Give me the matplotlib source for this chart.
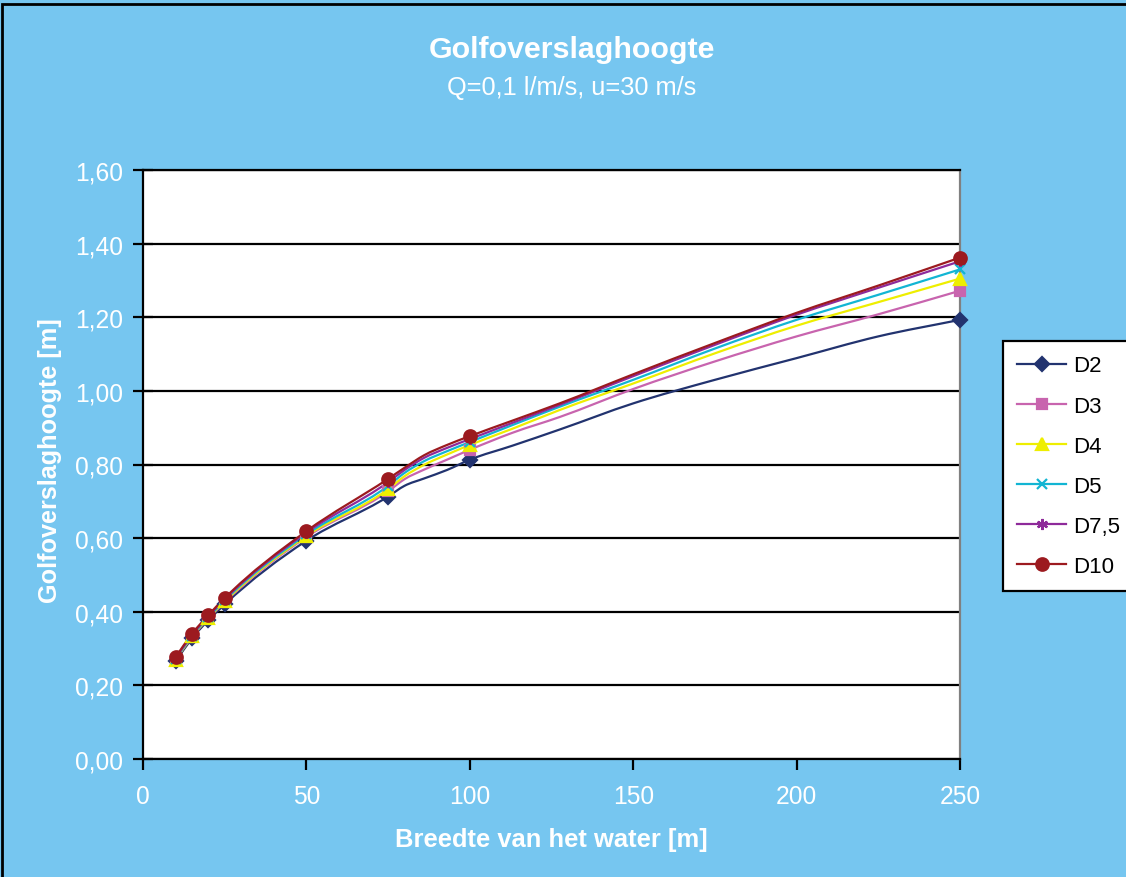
import matplotlib
matplotlib.use("Agg")
import matplotlib.pyplot as plt
from matplotlib.path import Path
from matplotlib.patches import PathPatch, Rectangle
from matplotlib.lines import Line2D
from matplotlib.ticker import FuncFormatter

plt.rcParams['font.family'] = ['Liberation Sans', 'DejaVu Sans']

# gegevens
breedte = [10, 15, 20, 25, 50, 75, 80, 86, 93, 100, 113, 127.5, 150, 175, 200, 225, 250]
# punten met een marker
meetpunten = [10, 15, 20, 25, 50, 75, 100, 250]
series_namen = ['D2', 'D3', 'D4', 'D5', 'D7,5', 'D10']
d2 = [0.265, 0.328, 0.377, 0.420, 0.593, 0.713, 0.742, 0.762, 0.785, 0.813,
      0.851, 0.895, 0.966, 1.030, 1.089, 1.148, 1.193]
d3 = [0.270, 0.332, 0.382, 0.426, 0.603, 0.727, 0.760, 0.786, 0.813, 0.840,
      0.886, 0.929, 1.005, 1.080, 1.148, 1.208, 1.272]
d4 = [0.270, 0.333, 0.383, 0.428, 0.606, 0.733, 0.768, 0.799, 0.827, 0.853,
      0.897, 0.948, 1.020, 1.102, 1.177, 1.241, 1.305]
d5 = [0.272, 0.335, 0.385, 0.431, 0.610, 0.742, 0.777, 0.809, 0.836, 0.861,
      0.907, 0.957, 1.030, 1.115, 1.193, 1.261, 1.330]
d75 = [0.274, 0.337, 0.388, 0.434, 0.615, 0.752, 0.785, 0.818, 0.845, 0.869,
       0.913, 0.962, 1.040, 1.125, 1.207, 1.280, 1.352]
d10 = [0.277, 0.340, 0.391, 0.437, 0.619, 0.761, 0.791, 0.825, 0.853, 0.877,
       0.919, 0.966, 1.045, 1.130, 1.212, 1.286, 1.362]
y_ticks = [0.0, 0.2, 0.4, 0.6, 0.8, 1.0, 1.2, 1.4, 1.6]
x_ticks = [0, 50, 100, 150, 200, 250]

waarden = [d2, d3, d4, d5, d75, d10]
kleuren = ['#22336f', '#c864ae', '#eeee00', '#12b5d3', '#8e2a9a', '#9c1a1f']
markers = ['D', 's', '^', 'x', (6, 2, 0), 'o']
msizes = [7.5, 7, 9, 7, 8, 9]

bg = '#76c6f0'


def gladde_lijn(xs, ys):
    # kubische hermite-curve door de punten (als bezier)
    n = len(xs)
    m = []
    for i in range(n):
        if i == 0:
            m.append((ys[1] - ys[0]) / (xs[1] - xs[0]))
        elif i == n - 1:
            m.append((ys[-1] - ys[-2]) / (xs[-1] - xs[-2]))
        else:
            h0 = xs[i] - xs[i - 1]
            h1 = xs[i + 1] - xs[i]
            s0 = (ys[i] - ys[i - 1]) / h0
            s1 = (ys[i + 1] - ys[i]) / h1
            m.append((s0 * h1 + s1 * h0) / (h0 + h1))
    verts = [(xs[0], ys[0])]
    codes = [Path.MOVETO]
    for i in range(n - 1):
        h = xs[i + 1] - xs[i]
        verts += [(xs[i] + h / 3, ys[i] + m[i] * h / 3),
                  (xs[i + 1] - h / 3, ys[i + 1] - m[i + 1] * h / 3),
                  (xs[i + 1], ys[i + 1])]
        codes += [Path.CURVE4] * 3
    return Path(verts, codes)


fig = plt.figure(figsize=(11.26, 8.78), dpi=100, facecolor=bg)
ax = fig.add_axes([143 / 1126, 118 / 878, 817 / 1126, 589 / 878])
ax.set_facecolor('white')

for naam, ys, kl, mk, ms in zip(series_namen, waarden, kleuren, markers, msizes):
    ax.add_patch(PathPatch(gladde_lijn(breedte, ys), facecolor='none',
                           edgecolor=kl, lw=1.6, zorder=3))
    mx = [x for x in breedte if x in meetpunten]
    my = [y for x, y in zip(breedte, ys) if x in meetpunten]
    ax.plot(mx, my, linestyle='none', marker=mk, markersize=ms,
            color=kl, markeredgecolor=kl, markeredgewidth=1.6, zorder=4,
            clip_on=False)

ax.set_xlim(0, 250)
ax.set_ylim(0, 1.6)
ax.set_xticks(x_ticks)
ax.set_yticks(y_ticks)
ax.yaxis.set_major_formatter(FuncFormatter(lambda v, p: f'{v:.2f}'.replace('.', ',')))
ax.grid(axis='y', color='black', lw=1.6)
ax.set_axisbelow(True)

for s in ['left', 'bottom', 'top']:
    ax.spines[s].set_color('black')
    ax.spines[s].set_linewidth(1.6)
ax.spines['right'].set_color('#808080')
ax.spines['right'].set_linewidth(1.6)

ax.tick_params(axis='y', direction='inout', length=14, width=1.6,
               colors='black', labelcolor='white', labelsize=17.7, pad=7.5)
ax.tick_params(axis='x', direction='out', length=8, width=1.6,
               colors='black', labelcolor='white', labelsize=17.7, pad=10)

ax.set_xlabel('Breedte van het water [m]', fontsize=18.4, fontweight='bold',
              color='white', va='center')
ax.xaxis.set_label_coords(0.5, -(840 - 760) / 589)
ax.set_ylabel('Golfoverslaghoogte [m]', fontsize=18.2, fontweight='bold',
              color='white', va='center')
ax.yaxis.set_label_coords(-(143 - 50) / 817, 0.508)

fig.text(572 / 1126, 1 - 50 / 878, 'Golfoverslaghoogte', ha='center',
         va='center', fontsize=21.9, fontweight='bold', color='white')
fig.text(572 / 1126, 1 - 88 / 878, 'Q=0,1 l/m/s, u=30 m/s', ha='center',
         va='center', fontsize=18.3, color='white')

handles = [Line2D([], [], color=kl, lw=1.6, marker=mk, markersize=ms,
                  markeredgewidth=1.6)
           for kl, mk, ms in zip(kleuren, markers, msizes)]
leg = fig.legend(handles, series_namen, loc='upper left',
                 bbox_to_anchor=(1003 / 1126, 1 - 342 / 878),
                 fontsize=16, frameon=True, fancybox=False,
                 handlelength=2.2, handletextpad=0.3, labelspacing=0.86,
                 borderpad=0.65, borderaxespad=0)
leg.get_frame().set_edgecolor('black')
leg.get_frame().set_linewidth(1.6)
leg.get_frame().set_facecolor('white')
leg.get_frame().set_alpha(1)

# zwarte rand om de figuur
fig.patches.append(Rectangle((2 / 1126, -0.05), 1.1, 1.05 - 5 / 878,
                             transform=fig.transFigure, fill=False,
                             edgecolor='black', lw=2, zorder=10))

fig.savefig('out.png', dpi=100, facecolor=bg)
